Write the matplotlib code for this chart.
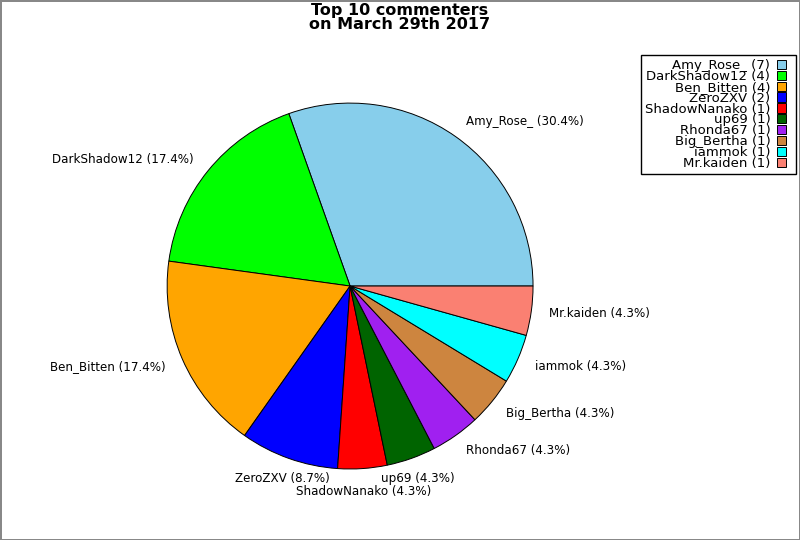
import matplotlib
matplotlib.use("Agg")
import matplotlib.pyplot as plt
from matplotlib.patches import Patch, Rectangle
from matplotlib.legend_handler import HandlerPatch

names = ["Amy_Rose_", "DarkShadow12", "Ben_Bitten", "ZeroZXV", "ShadowNanako",
         "up69", "Rhonda67", "Big_Bertha", "iammok", "Mr.kaiden"]
counts = [7, 4, 4, 2, 1, 1, 1, 1, 1, 1]
colors = ["skyblue", "lime", "orange", "blue", "red",
          "darkgreen", "#a020f0", "peru", "cyan", "salmon"]

total = sum(counts)
pie_labels = ["%s (%.1f%%)" % (n, 100.0 * c / total) for n, c in zip(names, counts)]
legend_labels = ["%s (%d)" % (n, c) for n, c in zip(names, counts)]


def small_square(legend, orig_handle, xdescent, ydescent, width, height, fontsize):
    # square swatch on the left of the handle box, leaves room on the right
    return Rectangle((-xdescent, -ydescent), height * 0.95, height)


fig = plt.figure(figsize=(8, 5.4), dpi=100)
fig.patch.set_edgecolor("#888888")
fig.patch.set_linewidth(2)

ax = fig.add_axes([0.1516, 0.0468, 0.572, 0.847])
wedges, texts = ax.pie(counts, labels=pie_labels, colors=colors,
                       wedgeprops={"edgecolor": "black", "linewidth": 0.7},
                       textprops={"fontsize": 8.6})

# bottom labels sit centred and nudged a little, like the original
nudges = {"ZeroZXV": (0.0, -0.016), "ShadowNanako": (0.0, -0.027), "up69": (0.0, -0.016)}
for name, t in zip(names, texts):
    if name in nudges:
        x, y = t.get_position()
        dx, dy = nudges[name]
        t.set_position((x + dx, y + dy))
        t.set_ha("center")

fig.text(0.5, 0.995, "Top 10 commenters\non March 29th 2017", ha="center", va="top",
         fontsize=11.5, fontweight="bold", linespacing=0.9)

handles = [Patch(facecolor=c, edgecolor="black", linewidth=0.7) for c in colors]
leg = fig.legend(handles, legend_labels, loc="upper right",
                 bbox_to_anchor=(0.995, 0.898), borderaxespad=0, markerfirst=False,
                 fontsize=9.5, labelspacing=-0.16, handlelength=1.15, handleheight=0.7,
                 handletextpad=0.5, borderpad=0.3, fancybox=False, framealpha=1,
                 handler_map={Patch: HandlerPatch(patch_func=small_square)})
leg.get_frame().set_edgecolor("black")
for t in leg.get_texts():
    t.set_ha("right")

fig.savefig("out.png", dpi=100)
